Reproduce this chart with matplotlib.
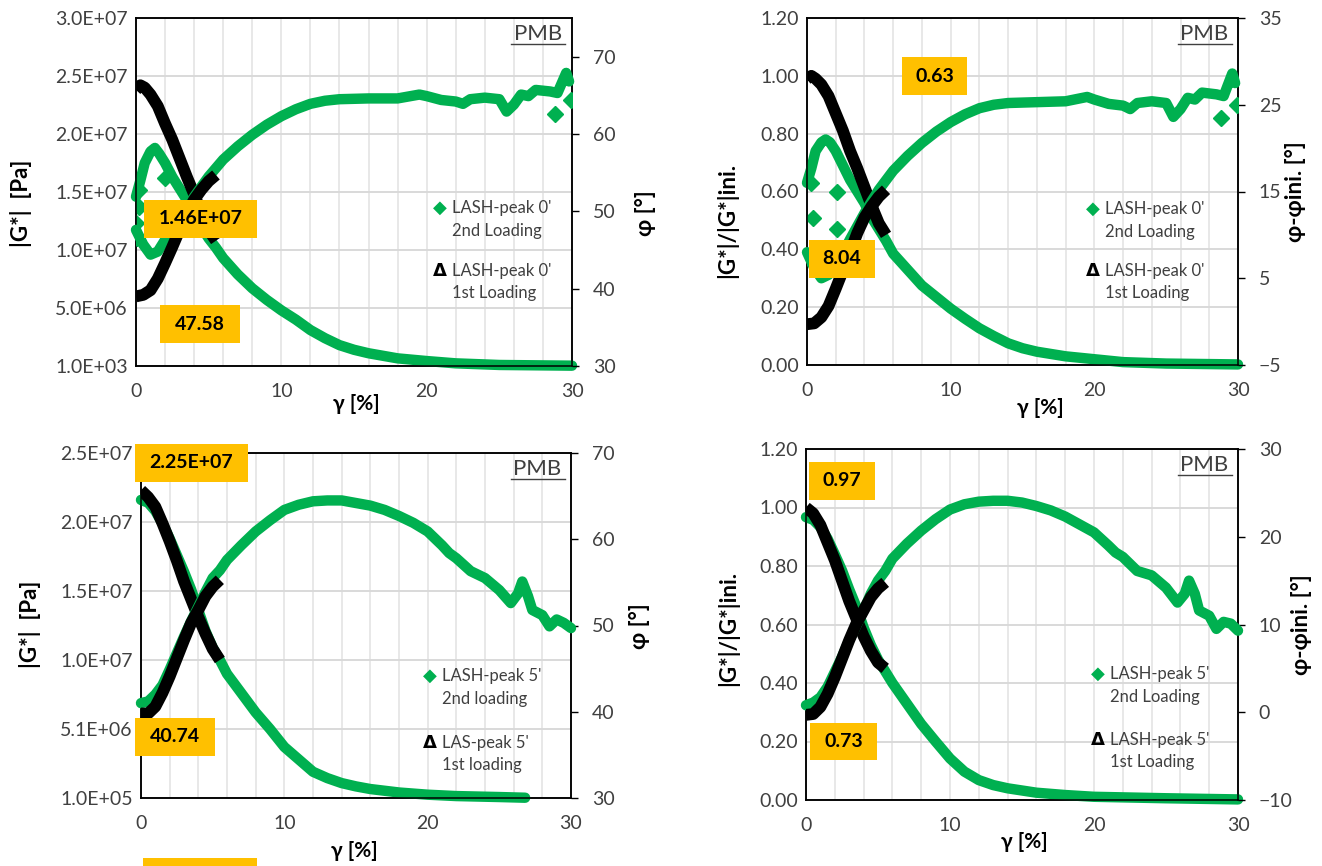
import matplotlib.pyplot as plt
from matplotlib.patches import Rectangle
from matplotlib.lines import Line2D

plt.rcParams['font.family'] = ['Lato', 'DejaVu Sans']

GREEN = '#00B050'
ORANGE = '#FFC000'
TXT = '#404040'
W, H = 1322, 866

# ---------------- panel 1: LASH-peak 0', absolute values
p1_gG_x = [0, 0.3, 0.6, 1, 1.3, 1.6, 2, 2.5, 3, 3.5, 4, 4.5, 5, 5.5, 6, 7, 8, 9, 10, 11,
           12, 13, 14, 15, 16, 18, 20, 22, 25, 30]
p1_gG = [1.46e7, 1.60e7, 1.75e7, 1.85e7, 1.88e7, 1.83e7, 1.75e7, 1.63e7, 1.53e7, 1.43e7,
         1.32e7, 1.20e7, 1.10e7, 1.02e7, 0.93e7, 0.79e7, 0.67e7, 0.57e7, 0.48e7, 0.40e7,
         0.31e7, 0.24e7, 0.18e7, 0.14e7, 0.11e7, 0.066e7, 0.043e7, 0.023e7, 0.009e7, 0.003e7]
p1_gG_out_x = [0, 0.2, 0.2, 2.0]
p1_gG_out = [1.23e7, 1.37e7, 1.52e7, 1.62e7]
p1_gp_x = [0, 0.5, 1, 1.5, 2, 2.5, 3, 3.5, 4, 4.5, 5, 6, 7, 8, 9, 10, 11, 12, 13, 14,
           16, 18, 19.5, 20, 21, 22, 22.5, 23, 24, 25, 25.5, 26, 26.5, 27, 27.5, 28, 28.5,
           29, 29.3, 29.6, 29.8]
p1_gp = [47.6, 45.7, 44.4, 44.8, 46.3, 47.2, 48.9, 50.4, 51.9, 53.2, 54.5, 56.7, 58.4,
         59.9, 61.2, 62.3, 63.2, 63.9, 64.3, 64.5, 64.6, 64.6, 65.1, 64.9, 64.4, 64.2,
         63.9, 64.5, 64.7, 64.5, 62.9, 63.8, 65.1, 64.9, 65.7, 65.6, 65.5, 65.3, 66.6,
         67.9, 66.8]
p1_gp_out_x = [0.1, 28.8, 29.9]
p1_gp_out = [46.6, 62.6, 64.4]
p1_bG_x = [0, 0.3, 0.6, 1, 1.5, 2, 2.5, 3, 3.5, 4, 4.5, 5, 5.5]
p1_bG = [2.38e7, 2.42e7, 2.40e7, 2.34e7, 2.24e7, 2.09e7, 1.95e7, 1.79e7, 1.63e7, 1.48e7,
         1.32e7, 1.17e7, 1.08e7]
p1_bp_x = [0, 0.5, 1, 1.5, 2, 2.5, 3, 3.5, 4, 4.5, 5, 5.5]
p1_bp = [39.0, 39.2, 39.8, 41.3, 43.3, 45.4, 47.6, 49.8, 51.5, 52.8, 53.9, 54.7]
p1_left_ticks = [1e3, 5.001e6, 1.0001e7, 1.5001e7, 2.0001e7, 2.5001e7, 3.0001e7]
p1_left_labels = ['1.0E+03', '5.0E+06', '1.0E+07', '1.5E+07', '2.0E+07', '2.5E+07', '3.0E+07']
p1_right_ticks = [30, 40, 50, 60, 70]
p1_right_lim = (30, 75)

# ---------------- panel 2: LASH-peak 0', normalised
p2_gG_x = p1_gG_x
p2_gG = [0.63, 0.68, 0.74, 0.77, 0.78, 0.77, 0.74, 0.69, 0.64, 0.60, 0.56, 0.51, 0.47,
         0.43, 0.385, 0.33, 0.275, 0.235, 0.195, 0.16, 0.127, 0.10, 0.075, 0.058, 0.046,
         0.03, 0.02, 0.01, 0.005, 0.002]
p2_gG_out_x = [0.3, 0.4, 2.1, 2.1]
p2_gG_out = [0.63, 0.51, 0.60, 0.47]
p2_gp_x = p1_gp_x
p2_gp = [8.0, 6.2, 5.0, 5.4, 6.9, 7.9, 9.5, 11.0, 12.5, 13.9, 15.2, 17.4, 19.1, 20.6,
         21.9, 23.0, 23.9, 24.6, 25.0, 25.2, 25.3, 25.4, 25.9, 25.6, 25.1, 24.9, 24.5,
         25.2, 25.4, 25.2, 23.6, 24.5, 25.8, 25.6, 26.4, 26.3, 26.2, 26.0, 27.3, 28.6, 27.5]
p2_gp_out_x = [0.1, 28.8, 29.9]
p2_gp_out = [7.3, 23.5, 25.0]
p2_bG_x = p1_bG_x
p2_bG = [0.99, 1.0, 0.99, 0.97, 0.93, 0.87, 0.81, 0.74, 0.68, 0.615, 0.55, 0.49, 0.45]
p2_bp_x = p1_bp_x
p2_bp = [-0.3, -0.2, 0.5, 1.8, 3.8, 5.9, 8.0, 10.2, 12.0, 13.3, 14.4, 15.2]
p2_left_ticks = [0, 0.2, 0.4, 0.6, 0.8, 1.0, 1.2]
p2_left_labels = ['0.00', '0.20', '0.40', '0.60', '0.80', '1.00', '1.20']
p2_right_ticks = [-5, 5, 15, 25, 35]
p2_right_lim = (-5, 35)

# ---------------- panel 3: LASH-peak 5', absolute values
p3_gG_x = [0, 0.5, 1, 1.5, 2, 2.5, 3, 3.5, 4, 4.5, 5, 5.5, 6, 7, 8, 9, 10, 11, 12, 13,
           14, 15, 16, 18, 20, 22, 25, 26.8]
p3_gG = [2.17e7, 2.15e7, 2.09e7, 2.00e7, 1.89e7, 1.77e7, 1.65e7, 1.52e7, 1.37e7, 1.22e7,
         1.10e7, 1.01e7, 0.91e7, 0.77e7, 0.63e7, 0.51e7, 0.38e7, 0.29e7, 0.20e7, 0.154e7,
         0.118e7, 0.094e7, 0.075e7, 0.05e7, 0.034e7, 0.024e7, 0.017e7, 0.012e7]
p3_gp_x = [0, 0.5, 1, 1.5, 2, 2.5, 3, 3.5, 4, 4.5, 5, 5.5, 6, 7, 8, 9, 10, 11, 12, 13,
           14, 15, 16, 17, 18, 19, 20, 21, 21.5, 22, 23, 24, 25, 25.8, 26.3, 26.6, 27,
           27.3, 28, 28.5, 29, 29.5, 30]
p3_gp = [41.0, 41.2, 42.0, 43.1, 44.9, 46.8, 48.7, 50.5, 52.2, 53.9, 55.5, 56.4, 57.6,
         59.3, 60.9, 62.2, 63.4, 64.0, 64.4, 64.5, 64.5, 64.2, 63.9, 63.4, 62.7, 61.9,
         60.9, 59.3, 58.4, 57.8, 56.3, 55.5, 54.1, 52.6, 53.7, 55.1, 53.4, 51.8, 51.2,
         49.9, 50.7, 50.3, 49.7]
p3_bG_x = [0, 0.5, 1, 1.5, 2, 2.5, 3, 3.5, 4, 4.5, 5, 5.5]
p3_bG = [2.24e7, 2.19e7, 2.12e7, 2.00e7, 1.87e7, 1.73e7, 1.58e7, 1.45e7, 1.32e7, 1.20e7,
         1.09e7, 1.01e7]
p3_bp_x = p3_bG_x
p3_bp = [39.8, 39.8, 40.6, 42.2, 44.1, 46.2, 48.3, 50.3, 51.8, 53.4, 54.5, 55.3]
p3_left_ticks = [1e5, 5.1e6, 1.01e7, 1.51e7, 2.01e7, 2.51e7]
p3_left_labels = ['1.0E+05', '5.1E+06', '1.0E+07', '1.5E+07', '2.0E+07', '2.5E+07']
p3_right_ticks = [30, 40, 50, 60, 70]
p3_right_lim = (30, 70)

# ---------------- panel 4: LASH-peak 5', normalised
p4_gG_x = [0, 0.5, 1, 1.5, 2, 2.5, 3, 3.5, 4, 4.5, 5, 5.5, 6, 7, 8, 9, 10, 11, 12, 13,
           14, 16, 18, 20, 25, 30]
p4_gG = [0.967, 0.958, 0.933, 0.893, 0.84, 0.785, 0.72, 0.66, 0.59, 0.53, 0.48, 0.44,
         0.40, 0.33, 0.26, 0.20, 0.142, 0.097, 0.068, 0.051, 0.04, 0.025, 0.017, 0.011,
         0.006, 0.002]
p4_gp_x = p3_gp_x
p4_gp = [0.8, 1.1, 1.7, 2.9, 4.6, 6.3, 8.2, 9.9, 11.6, 13.5, 15.0, 16.1, 17.5, 19.2,
         20.7, 22.0, 23.1, 23.7, 24.0, 24.1, 24.1, 23.9, 23.5, 23.0, 22.3, 21.4, 20.5,
         19.0, 18.2, 17.7, 16.1, 15.6, 14.2, 12.5, 13.5, 15.0, 13.5, 11.6, 11.0, 9.5,
         10.3, 10.1, 9.3]
p4_bG_x = p3_bG_x
p4_bG = [1.0, 0.98, 0.94, 0.88, 0.82, 0.75, 0.68, 0.62, 0.56, 0.51, 0.47, 0.45]
p4_bp_x = p3_bG_x
p4_bp = [-0.3, -0.2, 0.6, 2.1, 4.0, 6.1, 8.2, 10.1, 11.6, 13.1, 14.1, 14.8]
p4_left_ticks = p2_left_ticks
p4_left_labels = p2_left_labels
p4_right_ticks = [-10, 0, 10, 20, 30]
p4_right_lim = (-10, 30)

x_ticks = [0, 10, 20, 30]


def px(x, y):
    return x / W, 1 - y / H


fig = plt.figure(figsize=(13.22, 8.66), dpi=100)


def panel(box, gG_x, gG, gp_x, gp, bG_x, bG, bp_x, bp, gG_out, gp_out,
          left_ticks, left_labels, right_ticks, right_lim):
    l, t, r, b = box
    ax = fig.add_axes([l / W, 1 - b / H, (r - l) / W, (b - t) / H])
    ax2 = ax.twinx()

    ax.set_xlim(0, 30)
    ax.set_ylim(left_ticks[0], left_ticks[-1])
    ax2.set_ylim(*right_lim)

    ax.set_xticks(x_ticks)
    ax.set_xticks(range(0, 31, 2), minor=True)
    ax.set_yticks(left_ticks)
    ax.set_yticklabels(left_labels)
    ax2.set_yticks(right_ticks)

    ax.set_axisbelow(True)
    ax.grid(axis='x', which='both', color='#e6e6e6', lw=1.3)
    ax.grid(axis='y', which='major', color='#d9d9d9', lw=1.4)

    ax.tick_params(axis='both', which='both', length=0, labelsize=14, labelcolor=TXT)
    ax.tick_params(axis='y', pad=6)
    ax.tick_params(axis='x', pad=12)
    ax2.tick_params(axis='y', length=5, width=1, pad=10, labelsize=14, labelcolor=TXT)
    for a in (ax, ax2):
        for s in a.spines.values():
            s.set_color('black')
            s.set_linewidth(1.1)

    # 2nd loading (green diamonds), then 1st loading (black triangles)
    ax.plot(gG_x, gG, color=GREEN, lw=7.5, solid_joinstyle='round',
            solid_capstyle='round', clip_on=False, zorder=3)
    ax.plot(bG_x, bG, color='black', lw=8.5, solid_capstyle='butt', zorder=4)
    ax2.plot(gp_x, gp, color=GREEN, lw=7.5, solid_joinstyle='round',
             solid_capstyle='round', clip_on=False, zorder=3)
    ax2.plot(bp_x, bp, color='black', lw=8.5, solid_capstyle='butt', zorder=4)
    if gG_out is not None:
        ax.plot(gG_out[0], gG_out[1], ls='none', marker='D', ms=8, color=GREEN, zorder=3)
    if gp_out is not None:
        ax2.plot(gp_out[0], gp_out[1], ls='none', marker='D', ms=8, color=GREEN, zorder=3)

    ax2.text(0.922, 0.955, 'PMB', transform=ax2.transAxes, ha='center', va='center',
             fontsize=16, color=TXT)
    ax2.add_line(Line2D([0.86, 0.985], [0.925, 0.925], transform=ax2.transAxes,
                        color=TXT, lw=1))
    return ax, ax2


panel((136, 18, 572, 366), p1_gG_x, p1_gG, p1_gp_x, p1_gp, p1_bG_x, p1_bG, p1_bp_x, p1_bp,
      (p1_gG_out_x, p1_gG_out), (p1_gp_out_x, p1_gp_out),
      p1_left_ticks, p1_left_labels, p1_right_ticks, p1_right_lim)
panel((807, 18, 1238, 365), p2_gG_x, p2_gG, p2_gp_x, p2_gp, p2_bG_x, p2_bG, p2_bp_x, p2_bp,
      (p2_gG_out_x, p2_gG_out), (p2_gp_out_x, p2_gp_out),
      p2_left_ticks, p2_left_labels, p2_right_ticks, p2_right_lim)
panel((141, 453, 571, 798), p3_gG_x, p3_gG, p3_gp_x, p3_gp, p3_bG_x, p3_bG, p3_bp_x, p3_bp,
      None, None, p3_left_ticks, p3_left_labels, p3_right_ticks, p3_right_lim)
panel((806, 449, 1238, 800), p4_gG_x, p4_gG, p4_gp_x, p4_gp, p4_bG_x, p4_bG, p4_bp_x, p4_bp,
      None, None, p4_left_ticks, p4_left_labels, p4_right_ticks, p4_right_lim)

# axis titles
titles = [
    (21, 203, '|G*|  [Pa]'), (645, 213, 'φ [°]'),
    (727, 220, '|G*|/|G*|ini.'), (1296, 192, 'φ-φini. [°]'),
    (30, 624, '|G*|  [Pa]'), (640, 626, 'φ [°]'),
    (728, 628, '|G*|/|G*|ini.'), (1301, 625, 'φ-φini. [°]'),
]
for x, y, s in titles:
    fig.text(*px(x, y), s, rotation=90, ha='center', va='center', fontsize=16,
             fontweight='bold')
for x, y in [(356, 404), (1040, 408), (354, 851), (1024, 842)]:
    fig.text(*px(x, y), 'γ [%]', ha='center', va='center', fontsize=15, fontweight='bold')

# legends
legends = [
    (440, 208, 271, "LASH-peak 0'", "2nd Loading", "LASH-peak 0'", "1st Loading"),
    (1093, 209, 271, "LASH-peak 0'", "2nd Loading", "LASH-peak 0'", "1st Loading"),
    (430, 676, 743, "LASH-peak 5'", "2nd loading", "LAS-peak 5'", "1st loading"),
    (1098, 674, 740, "LASH-peak 5'", "2nd Loading", "LASH-peak 5'", "1st Loading"),
]
for x, y1, y2, a1, a2, b1, b2 in legends:
    fig.text(*px(x, y1), '◆', ha='center', va='center', fontsize=13, color=GREEN,
             family=['DejaVu Sans'])
    fig.text(*px(x, y2), 'Δ', ha='center', va='center', fontsize=13, fontweight='bold',
             family=['DejaVu Sans'])
    fig.text(*px(x + 12, y1), a1, ha='left', va='center', fontsize=12, color=TXT)
    fig.text(*px(x + 12, y1 + 23), a2, ha='left', va='center', fontsize=12, color=TXT)
    fig.text(*px(x + 12, y2), b1, ha='left', va='center', fontsize=12, color=TXT)
    fig.text(*px(x + 12, y2 + 22), b2, ha='left', va='center', fontsize=12, color=TXT)

# orange value boxes
boxes = [
    (144, 257, 200, 238, '1.46E+07'), (160, 240, 305, 343, '47.58'),
    (902, 967, 57, 95, '0.63'), (809, 875, 240, 278, '8.04'),
    (135, 248, 444, 482, '2.25E+07'), (135, 215, 718, 756, '40.74'),
    (143, 257, 858, 896, ''),
    (809, 875, 462, 500, '0.97'), (810, 877, 723, 760, '0.73'),
]
for x0, x1, y0, y1, s in boxes:
    fig.patches.append(Rectangle(px(x0, y1), (x1 - x0) / W, (y1 - y0) / H,
                                 transform=fig.transFigure, facecolor=ORANGE,
                                 edgecolor='none', zorder=10))
    fig.text(*px((x0 + x1) / 2, (y0 + y1) / 2), s, ha='center', va='center',
             fontsize=14, fontweight='bold', zorder=11)

fig.savefig('out.png', dpi=100)
